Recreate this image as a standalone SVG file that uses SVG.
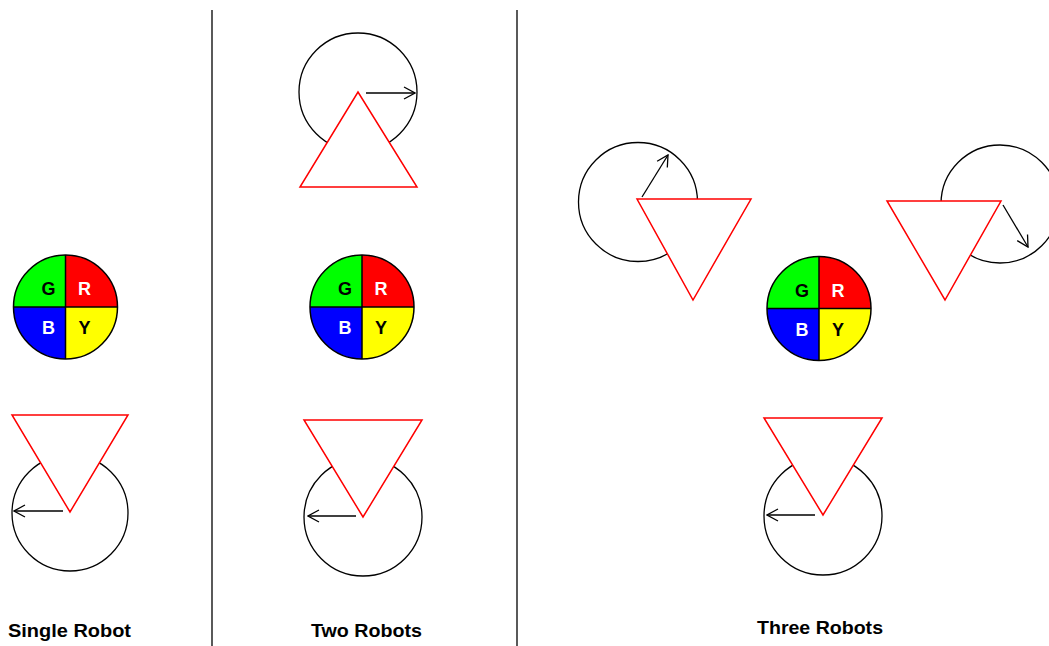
<svg xmlns="http://www.w3.org/2000/svg" width="1049" height="646" viewBox="0 0 1049 646">
<style>
.body{fill:none;stroke:#000;stroke-width:1.3}
.tri{fill:#fff;stroke:#ff0000;stroke-width:1.5;stroke-linejoin:miter}
.dir{stroke:#000;stroke-width:1.3;fill:none;marker-end:url(#ah)}
.q{stroke:#000;stroke-width:1.5}
.lt{font-family:"Liberation Sans",Arial,sans-serif;font-weight:bold;font-size:18px;text-anchor:middle}
.lbl{font-family:"Liberation Sans",Arial,sans-serif;font-weight:bold;font-size:19px;text-anchor:middle;fill:#000}
.div{stroke:#000;stroke-width:1.3}
</style>
<defs>
<marker id="ah" viewBox="0 0 14 14" refX="13" refY="7" markerWidth="14" markerHeight="14" markerUnits="userSpaceOnUse" orient="auto">
<path d="M2,1 L13,7 L2,13" fill="none" stroke="#000" stroke-width="1.3"/>
</marker>
<g id="wheelShape">
<path d="M0,0 L0,-52 A52,52 0 0 0 -52,0 Z" fill="#00ff00"/>
<path d="M0,0 L52,0 A52,52 0 0 0 0,-52 Z" fill="#ff0000"/>
<path d="M0,0 L-52,0 A52,52 0 0 0 0,52 Z" fill="#0000ff"/>
<path d="M0,0 L0,52 A52,52 0 0 0 52,0 Z" fill="#ffff00"/>
<circle r="52" fill="none" stroke="#000" stroke-width="1.5"/>
<line x1="-52" y1="0" x2="52" y2="0" class="q"/>
<line x1="0" y1="-52" x2="0" y2="52" class="q"/>
<text x="-17" y="-12" class="lt" fill="#000">G</text>
<text x="19" y="-12" class="lt" fill="#fff">R</text>
<text x="-17" y="27" class="lt" fill="#fff">B</text>
<text x="19" y="27" class="lt" fill="#000">Y</text>
</g>
</defs>
<g id="dividers">
<line x1="212" y1="10" x2="212" y2="646" class="div"/>
<line x1="517" y1="10" x2="517" y2="646" class="div"/>
</g>
<g id="wheel1"><use href="#wheelShape" x="65.5" y="307"/></g>
<g id="wheel2"><use href="#wheelShape" x="362" y="307"/></g>
<g id="wheel3"><use href="#wheelShape" x="819" y="308.5"/></g>
<g id="robot1">
<circle cx="70" cy="513" r="58" class="body"/>
<polygon points="12,415 128,415 70,512" class="tri"/>
</g>
<g id="robot2top">
<circle cx="358" cy="92" r="59" class="body"/>
<polygon points="300,187 417,187 358,92" class="tri"/>
</g>
<g id="robot2bottom">
<circle cx="363" cy="517" r="59" class="body"/>
<polygon points="304,420 422,420 363,517" class="tri"/>
</g>
<g id="robot3left">
<circle cx="638" cy="202" r="59.5" class="body"/>
<polygon points="637,199 751,199 693,300" class="tri"/>
</g>
<g id="robot3right">
<circle cx="1000" cy="204" r="59" class="body"/>
<polygon points="887,201 1001,201 945,300" class="tri"/>
</g>
<g id="robot3bottom">
<circle cx="823" cy="516" r="59" class="body"/>
<polygon points="764,418 882,418 823,515" class="tri"/>
</g>
<g id="connectors">
<line x1="63" y1="511" x2="14" y2="511" class="dir"/>
<line x1="366" y1="93" x2="415" y2="93" class="dir"/>
<line x1="356" y1="516" x2="308" y2="516" class="dir"/>
<line x1="642" y1="197" x2="668" y2="155" class="dir"/>
<line x1="1003" y1="205" x2="1028" y2="247" class="dir"/>
<line x1="815" y1="515" x2="767" y2="515" class="dir"/>
</g>
<g id="labels">
<text x="69.5" y="637" class="lbl" textLength="123" lengthAdjust="spacingAndGlyphs">Single Robot</text>
<text x="366.5" y="637" class="lbl" textLength="111" lengthAdjust="spacingAndGlyphs">Two Robots</text>
<text x="820" y="634" class="lbl" textLength="126" lengthAdjust="spacingAndGlyphs">Three Robots</text>
</g>
</svg>
